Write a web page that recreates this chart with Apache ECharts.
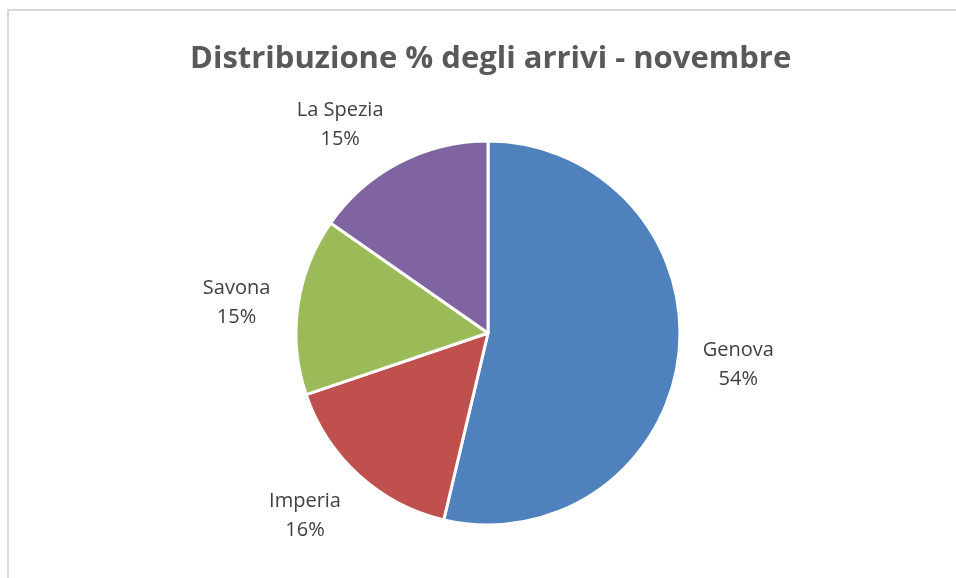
<!DOCTYPE html>
<html>
<head>
<meta charset="utf-8">
<script src="https://cdn.jsdelivr.net/npm/echarts@6/dist/echarts.min.js"></script>
<style>
html,body{margin:0;padding:0;background:#fff;}
#main{width:956px;height:578px;}
</style>
</head>
<body>
<div id="main"></div>
<script>
var categories = ['Genova', 'Imperia', 'Savona', 'La Spezia'];
var values = [53.7, 16.1, 14.9, 15.3];
var colors = ['#4F81BD', '#C0504D', '#9BBB59', '#8064A2'];
var titleText = 'Distribuzione % degli arrivi - novembre';

var chart = echarts.init(document.getElementById('main'), null, {renderer: 'canvas'});

// small label nudges (Excel best-fit placement), applied as label style
var labelNudge = {
  'Genova': [-5, 2],
  'Imperia': [-10, -7],
  'Savona': [3, 6],
  'La Spezia': [-29, 20]
};

var option = {
  backgroundColor: '#ffffff',
  animation: false,
  title: {
    text: titleText,
    left: 190,
    top: 40,
    padding: 0,
    textStyle: {
      fontFamily: 'Open Sans',
      fontWeight: 'bold',
      fontSize: 31,
      lineHeight: 38,
      color: '#595959'
    }
  },
  graphic: [
    {type: 'rect', silent: true, shape: {x: 7, y: 9, width: 2, height: 570}, style: {fill: '#d9d9d9'}},
    {type: 'rect', silent: true, shape: {x: 7, y: 9, width: 949, height: 2}, style: {fill: '#d9d9d9'}}
  ],
  series: [
    {
      type: 'pie',
      center: [488, 333],
      radius: [0, 192],
      startAngle: 90,
      clockwise: true,
      percentPrecision: 0,
      avoidLabelOverlap: false,
      silent: true,
      itemStyle: {borderColor: '#ffffff', borderWidth: 3},
      label: {show: false},
      labelLine: {show: false},
      emphasis: {disabled: true},
      data: categories.map(function (c, i) {
        return {name: c, value: values[i], itemStyle: {color: colors[i]}};
      })
    },
    {
      type: 'pie',
      center: [488, 333],
      radius: [232, 276],
      startAngle: 90,
      clockwise: true,
      percentPrecision: 0,
      avoidLabelOverlap: false,
      silent: true,
      itemStyle: {color: 'rgba(0,0,0,0)', borderWidth: 0},
      label: {
        show: true,
        position: 'inside',
        formatter: '{b}\n{d}%',
        fontFamily: 'Open Sans',
        fontSize: 20,
        lineHeight: 29,
        color: '#404040',
        align: 'center',
        verticalAlign: 'middle',
        rotate: 0
      },
      labelLine: {show: false},
      emphasis: {disabled: true},
      data: categories.map(function (c, i) {
        return {name: c, value: values[i], label: {offset: labelNudge[c]}};
      })
    }
  ]
};
chart.setOption(option);
</script>
</body>
</html>
